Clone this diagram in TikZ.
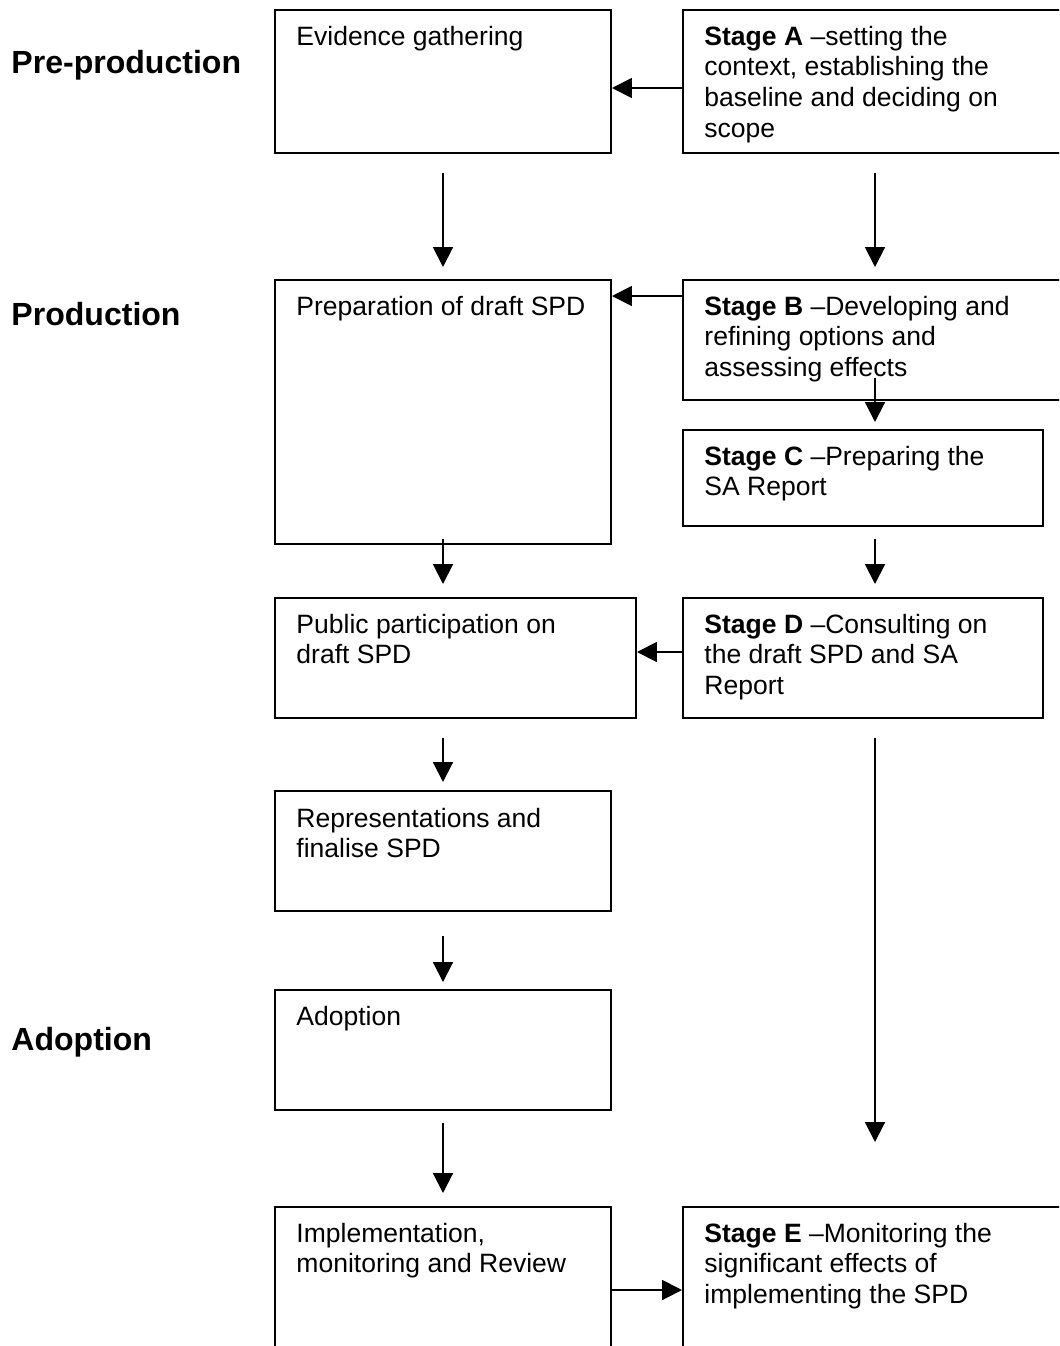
\documentclass[tikz,border=0pt]{standalone}
\usepackage{fontspec}
\setmainfont{Liberation Sans}
\usetikzlibrary{arrows.meta,fit}
\newcommand{\pxu}{0.4525pt}
\newcommand{\mlines}[1]{\vtop{\baselineskip=14pt\lineskiplimit=-10pt\halign{##\hfil\cr#1\crcr}}}
\tikzset{
  box/.style={draw, line width=0.9pt, inner sep=0pt, rectangle},
  txt/.style={anchor=base west, inner sep=0pt, font=\fontsize{12pt}{14pt}\selectfont},
  lbl/.style={anchor=base west, inner sep=0pt, font=\fontsize{14.5pt}{17pt}\selectfont\bfseries},
  arr/.style={line width=0.9pt, -{Triangle[length=9pt,width=9pt]}}
}
\begin{document}
\begin{tikzpicture}[x=0.4525pt, y=-0.4525pt]
\useasboundingbox (0,0) rectangle (1059,1346);
\clip (0,0) rectangle (1059,1346);
\fill[white] (0,0) rectangle (1059,1346);

% boxes
\node[box, fit={(275,10)(611,153)}] (ev) {};
\node[box, fit={(683,10)(1067,153)}] (sA) {};
\node[box, fit={(275,280)(611,544)}] (prep) {};
\node[box, fit={(683,280)(1067,400)}] (sB) {};
\node[box, fit={(683,430)(1043,526)}] (sC) {};
\node[box, fit={(275,598)(636,718)}] (pub) {};
\node[box, fit={(683,598)(1043,718)}] (sD) {};
\node[box, fit={(275,791)(611,911)}] (rep) {};
\node[box, fit={(275,990)(611,1110)}] (ad) {};
\node[box, fit={(275,1207)(611,1420)}] (impl) {};
\node[box, fit={(683,1207)(1067,1420)}] (sE) {};

% box texts
\node[txt] (tev) at (296,45) {Evidence gathering};
\node[txt] (tA) at (704,45) {\mlines{\textbf{Stage A} –setting the\cr context, establishing the\cr baseline and deciding on\cr scope}};
\node[txt] (tprep) at (296,315) {Preparation of draft SPD};
\node[txt] (tB) at (704,315) {\mlines{\textbf{Stage B} –Developing and\cr refining options and\cr assessing effects}};
\node[txt] (tC) at (704,465) {\mlines{\textbf{Stage C} –Preparing the\cr SA Report}};
\node[txt] (tpub) at (296,633) {\mlines{Public participation on\cr draft SPD}};
\node[txt] (tD) at (704,633) {\mlines{\textbf{Stage D} –Consulting on\cr the draft SPD and SA\cr Report}};
\node[txt] (trep) at (296,827) {\mlines{Representations and\cr finalise SPD}};
\node[txt] (tad) at (296,1025) {Adoption};
\node[txt] (timpl) at (296,1242) {\mlines{Implementation,\cr monitoring and Review}};
\node[txt] (tE) at (704,1242) {\mlines{\textbf{Stage E} –Monitoring the\cr significant effects of\cr implementing the SPD}};

% phase labels
\node[lbl] (lpre) at (11,73) {Pre-production};
\node[lbl] (lprod) at (11,325) {Production};
\node[lbl] (ladopt) at (11,1050) {Adoption};

% connectors
\draw[arr] ([yshift=-6.5*\pxu]sA.west) -- ([yshift=-6.5*\pxu]ev.east);
\draw[arr, shorten <=19*\pxu, shorten >=12*\pxu] (ev.south) -- (prep.north);
\draw[arr, shorten <=19*\pxu, shorten >=12*\pxu] (sA.south) -- (sB.north);
\draw[arr] ([yshift=-17*\pxu]sB.north west) -- ([yshift=-17*\pxu]prep.north east);
\draw[arr, shorten >=7*\pxu] ([yshift=23*\pxu]sB.south) -- (sB.south |- sC.north);
\draw[arr, shorten <=12*\pxu, shorten >=13*\pxu] (sB.south |- sC.south) -- (sB.south |- sD.north);
\draw[arr, shorten >=13*\pxu] ([yshift=6*\pxu]prep.south) -- (prep.south |- pub.north);
\draw[arr] ([yshift=6*\pxu]sD.west) -- ([yshift=6*\pxu]pub.east);
\draw[arr, shorten <=19*\pxu, shorten >=8*\pxu] (rep.north |- pub.south) -- (rep.north);
\draw[arr, shorten <=24*\pxu, shorten >=7*\pxu] (rep.south) -- (ad.north);
\draw[arr, shorten <=12*\pxu, shorten >=13*\pxu] (ad.south) -- (impl.north);
\draw[arr, shorten <=19*\pxu, shorten >=64*\pxu] (sE.north |- sD.south) -- (sE.north);
\draw[arr] ([yshift=-84*\pxu]impl.north east) -- ([yshift=-84*\pxu]sE.north west);
\end{tikzpicture}
\end{document}
